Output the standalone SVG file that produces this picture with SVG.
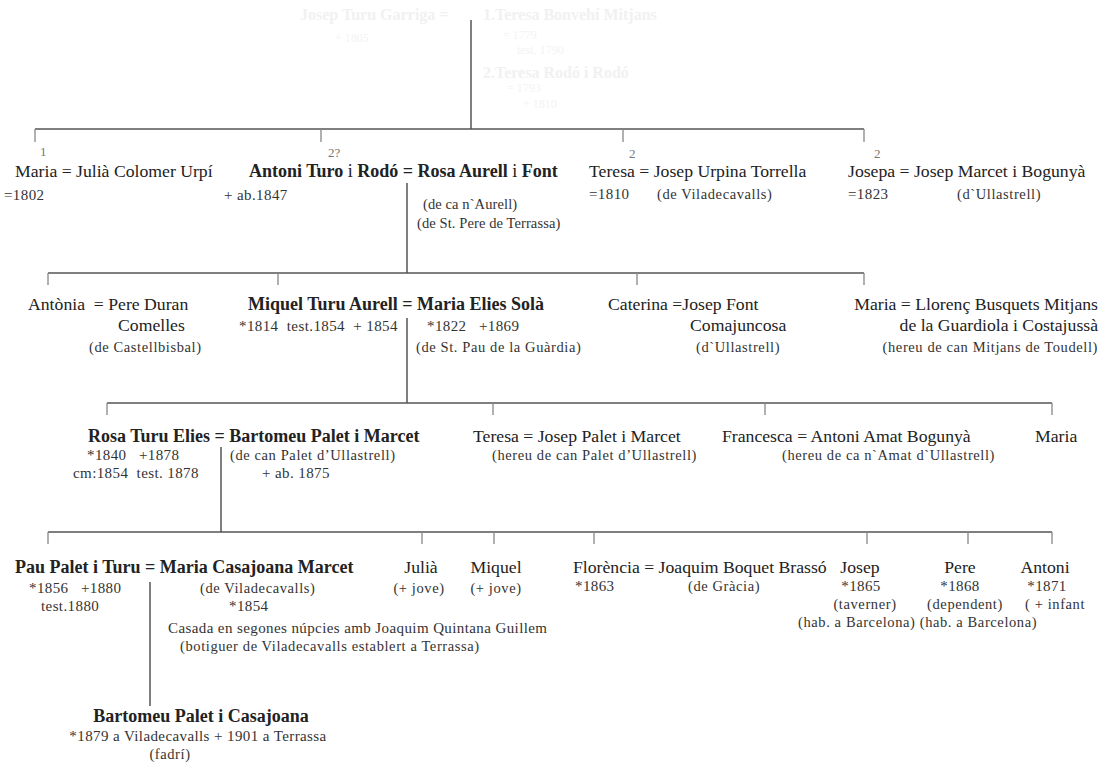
<svg xmlns="http://www.w3.org/2000/svg" width="1113" height="763" viewBox="0 0 1113 763">
<style>
text{font-family:"Liberation Serif","Times New Roman",serif;fill:#222;white-space:pre}
.n{font-size:17.7px}
.b{font-size:18px;font-weight:bold}
.d{font-size:15px;letter-spacing:0.4px;fill:#333}
.p{font-size:14.5px;letter-spacing:0.6px;fill:#333}
.t{letter-spacing:0.1px}
.g{font-size:13px;fill:#777}
.f{font-size:16px;fill:#f1f1f1;font-weight:bold}
.fs{font-size:12px;fill:#f3f3f3}
.m{text-anchor:middle}
.e{text-anchor:end}
.w{font-weight:normal}
.ln{stroke:#555;stroke-width:1.5;fill:none}
.tk{stroke:#888;stroke-width:1.3;fill:none}
</style>
<rect width="1113" height="763" fill="#fff"/>

<g id="top-faded">
<text class="f" x="300" y="20">Josep Turu Garriga =</text>
<text class="f" x="483" y="20">1.Teresa Bonvehí Mitjans</text>
<text class="fs" x="335" y="42">+ 1805</text>
<text class="fs" x="503" y="39">= 1779</text>
<text class="fs" x="517" y="54">test. 1790</text>
<text class="f" x="483" y="78">2.Teresa Rodó i Rodó</text>
<text class="fs" x="507" y="92">= 1793</text>
<text class="fs" x="523" y="108">+ 1810</text>
</g>

<g id="connectors">
<path class="ln" d="M471 20V129M35 129H864"/>
<path class="tk" d="M35 129V142M321 129V142M623 129V142M864 129V142"/>
<path class="ln" d="M407 183V273M48 273H864"/>
<path class="tk" d="M48 273V285M278 273V285M637 273V285M864 273V285"/>
<path class="ln" d="M407 318V403M107 403H1052"/>
<path class="tk" d="M107 403V415M493 403V415M765 403V415M1052 403V415"/>
<path class="ln" d="M221 447V532M48 532H1052"/>
<path class="tk" d="M48 532V544M422 532V544M494 532V544M594 532V544M867 532V544M968 532V544M1052 532V544"/>
<path class="ln" d="M150 582V706"/>
</g>

<g id="maria-colomer">
<text class="g" x="40" y="156">1</text>
<text class="n" x="15" y="177">Maria = Julià Colomer Urpí</text>
<text class="d" x="4" y="200">=1802</text>
</g>

<g id="antoni-rosa">
<text class="g" x="328" y="157">2?</text>
<text class="b" x="249" y="177">Antoni Turo <tspan class="w">i</tspan> Rodó = Rosa Aurell <tspan class="w">i</tspan> Font</text>
<text class="d" x="224" y="200">+ ab.1847</text>
<text class="p t" x="423" y="209">(de ca n`Aurell)</text>
<text class="p t" x="417" y="228">(de St. Pere de Terrassa)</text>
</g>

<g id="teresa-urpina">
<text class="g" x="629" y="158">2</text>
<text class="n" x="589" y="177">Teresa = Josep Urpina Torrella</text>
<text class="d" x="589" y="199">=1810</text>
<text class="p" x="657" y="199">(de Viladecavalls)</text>
</g>

<g id="josepa-marcet">
<text class="g" x="874" y="158">2</text>
<text class="n" x="848" y="177">Josepa = Josep Marcet i Bogunyà</text>
<text class="d" x="848" y="199">=1823</text>
<text class="p" x="957" y="199">(d`Ullastrell)</text>
</g>

<g id="antonia-duran">
<text class="n" x="28" y="310">Antònia  = Pere Duran</text>
<text class="n" x="118" y="331">Comelles</text>
<text class="p" x="89" y="352">(de Castellbisbal)</text>
</g>

<g id="miquel-maria">
<text class="b" x="248" y="310">Miquel Turu Aurell = Maria Elies Solà</text>
<text class="d" x="239" y="331">*1814  test.1854  + 1854</text>
<text class="d" x="427" y="331">*1822   +1869</text>
<text class="p" x="416" y="352">(de St. Pau de la Guàrdia)</text>
</g>

<g id="caterina-font">
<text class="n" x="608" y="310">Caterina =Josep Font</text>
<text class="n" x="690" y="331">Comajuncosa</text>
<text class="p" x="696" y="352">(d`Ullastrell)</text>
</g>

<g id="maria-busquets">
<text class="n e" x="1098" y="310">Maria = Llorenç Busquets Mitjans</text>
<text class="n e" x="1098" y="331">de la Guardiola i Costajussà</text>
<text class="p e" x="1098" y="352">(hereu de can Mitjans de Toudell)</text>
</g>

<g id="rosa-bartomeu">
<text class="b" x="88" y="442">Rosa Turu Elies = Bartomeu Palet i Marcet</text>
<text class="d" x="87" y="460">*1840   +1878</text>
<text class="d" x="73" y="478">cm:1854  test. 1878</text>
<text class="p" x="230" y="460">(de can Palet d’Ullastrell)</text>
<text class="d" x="262" y="478">+ ab. 1875</text>
</g>

<g id="teresa-palet">
<text class="n" x="473" y="442">Teresa = Josep Palet i Marcet</text>
<text class="p" x="492" y="460">(hereu de can Palet d’Ullastrell)</text>
</g>

<g id="francesca-amat">
<text class="n" x="722" y="442">Francesca = Antoni Amat Bogunyà</text>
<text class="p" x="782" y="460">(hereu de ca n`Amat d`Ullastrell)</text>
</g>

<g id="maria-3">
<text class="n" x="1035" y="442">Maria</text>
</g>

<g id="pau-maria">
<text class="b" x="15" y="573">Pau Palet i Turu = Maria Casajoana Marcet</text>
<text class="d" x="29" y="593">*1856   +1880</text>
<text class="d" x="41" y="611">test.1880</text>
<text class="p" x="200" y="593">(de Viladecavalls)</text>
<text class="d" x="229" y="611">*1854</text>
<text class="d" x="168" y="633">Casada en segones núpcies amb Joaquim Quintana Guillem</text>
<text class="p" x="180" y="651">(botiguer de Viladecavalls establert a Terrassa)</text>
</g>

<g id="julia">
<text class="n m" x="421" y="573">Julià</text>
<text class="p m" x="419" y="593">(+ jove)</text>
</g>

<g id="miquel-4">
<text class="n m" x="496" y="573">Miquel</text>
<text class="p m" x="496" y="593">(+ jove)</text>
</g>

<g id="florencia-boquet">
<text class="n" x="573" y="573">Florència = Joaquim Boquet Brassó</text>
<text class="d" x="575" y="591">*1863</text>
<text class="p" x="688" y="591">(de Gràcia)</text>
</g>

<g id="josep">
<text class="n m" x="860" y="573">Josep</text>
<text class="d m" x="861" y="591">*1865</text>
<text class="p m" x="865" y="609">(taverner)</text>
</g>

<g id="pere">
<text class="n m" x="960" y="573">Pere</text>
<text class="d m" x="960" y="591">*1868</text>
<text class="p m" x="965" y="609">(dependent)</text>
</g>

<g id="hab">
<text class="p" x="798" y="627">(hab. a Barcelona) (hab. a Barcelona)</text>
</g>

<g id="antoni-4">
<text class="n m" x="1045" y="573">Antoni</text>
<text class="d m" x="1047" y="591">*1871</text>
<text class="p" x="1025" y="609">( + infant</text>
</g>

<g id="bartomeu-casajoana">
<text class="b m" x="201" y="722">Bartomeu Palet i Casajoana</text>
<text class="d m" x="198" y="741">*1879 a Viladecavalls + 1901 a Terrassa</text>
<text class="p m" x="170" y="759">(fadrí)</text>
</g>
</svg>
